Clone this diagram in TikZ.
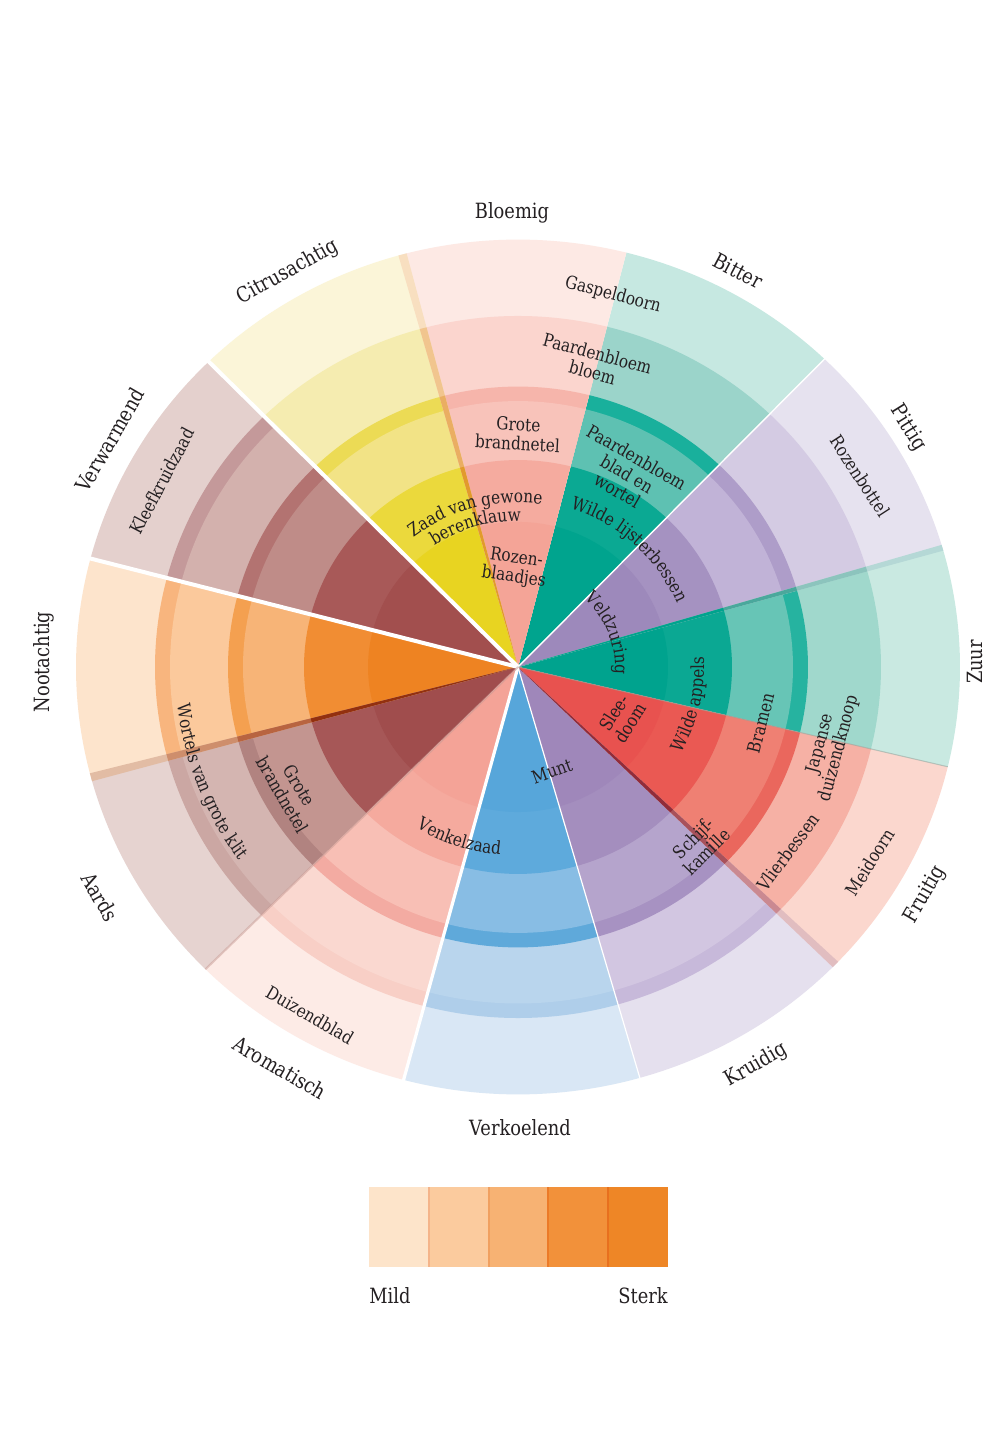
\documentclass[tikz,border=0pt]{standalone}
\usepackage{fontspec}
\setmainfont{DejaVu Serif}[FakeStretch=0.85]
\usetikzlibrary{decorations.text}
\definecolor{txt}{HTML}{242022}
\newcommand\itemfont{\fontsize{9}{9.6}\selectfont}
\newcommand\catfont{\fontsize{10.5}{12}\selectfont}
% sector: a1 a2 in in2 b1 s1 b2 s2 out
\newcommand\sect[9]{%
 \definecolor{cc}{HTML}{#9}\fill[cc] (0,0) -- (#1:442) arc[start angle=#1,end angle=#2,radius=442] -- cycle;
 \definecolor{cc}{HTML}{#8}\fill[cc] (0,0) -- (#1:363) arc[start angle=#1,end angle=#2,radius=363] -- cycle;
 \definecolor{cc}{HTML}{#7}\fill[cc] (0,0) -- (#1:348) arc[start angle=#1,end angle=#2,radius=348] -- cycle;
 \definecolor{cc}{HTML}{#6}\fill[cc] (0,0) -- (#1:290) arc[start angle=#1,end angle=#2,radius=290] -- cycle;
 \definecolor{cc}{HTML}{#5}\fill[cc] (0,0) -- (#1:275) arc[start angle=#1,end angle=#2,radius=275] -- cycle;
 \definecolor{cc}{HTML}{#4}\fill[cc] (0,0) -- (#1:214) arc[start angle=#1,end angle=#2,radius=214] -- cycle;
 \definecolor{cc}{HTML}{#3}\fill[cc] (0,0) -- (#1:150) arc[start angle=#1,end angle=#2,radius=150] -- cycle;
}
% overlap stripe: a1 a2 in b1 b2 out
\newcommand\ovl[6]{%
 \definecolor{cc}{HTML}{#6}\fill[cc] (0,0) -- (#1:442) arc[start angle=#1,end angle=#2,radius=442] -- cycle;
 \definecolor{cc}{HTML}{#5}\fill[cc] (0,0) -- (#1:363) arc[start angle=#1,end angle=#2,radius=363] -- cycle;
 \definecolor{cc}{HTML}{#4}\fill[cc] (0,0) -- (#1:290) arc[start angle=#1,end angle=#2,radius=290] -- cycle;
 \definecolor{cc}{HTML}{#3}\fill[cc] (0,0) -- (#1:214) arc[start angle=#1,end angle=#2,radius=214] -- cycle;
}
\tikzset{
 cat/.style={font=\catfont, text=txt, inner sep=0pt},
 item/.style={font=\itemfont, text=txt, align=center, inner sep=0pt},
 curved/.style={decorate, decoration={text along path, text align=center, text color=txt, text={|\itemfont|#1}}},
 legbox/.style={draw=none}
}
\begin{document}
\begin{tikzpicture}[x=0.5pt,y=0.5pt]
\useasboundingbox (0,0) rectangle (988,1440);
\fill[white] (0,0) rectangle (988,1440);
\begin{scope}[shift={(518,773)}, yscale=0.967]
 \sect{-13.5}{16.2}{00A38E}{0BA893}{67C5B6}{26B3A0}{A0D8CC}{A0D8CC}{C9E9E1}
 \sect{16.2}{46.1}{9D89BB}{A592C1}{C1B3D7}{AE9DC9}{D4CBE3}{D4CBE3}{E6E2EF}
 \sect{46.1}{75.8}{00A48E}{0BA993}{5EC1B2}{19B09C}{9BD4CA}{9BD4CA}{C6E8E1}
 \sect{75.8}{105.2}{F4A497}{F5AB9F}{F8C3BA}{F6B5AB}{FBD5CE}{FBD5CE}{FDE9E4}
 \sect{105.2}{134.4}{E8D421}{EBD93C}{F2E386}{ECDB55}{F5ECB0}{F5ECB0}{FBF5D8}
 \sect{134.4}{165.3}{A24F4E}{A85958}{BF8C88}{B37371}{D3B1AD}{C4999A}{E4D0CD}
 \sect{165.3}{195}{EE8322}{F18D33}{F7B477}{F4A050}{FBC99C}{F8B57E}{FDE4CC}
 \sect{195}{225}{A04D4D}{A65757}{C39590}{B18380}{D4B5B1}{CBA7A3}{E6D3D0}
 \sect{225}{255}{F4A397}{F5AA9E}{F8BFB5}{F3ABA2}{FAD8D0}{F8CFC6}{FDEBE6}
 \sect{255}{286}{57A6DA}{5EAADC}{88BDE4}{5FA9DA}{B9D5ED}{AFCEEA}{D9E7F5}
 \sect{286}{316}{9F87BA}{A48EBE}{B5A4CC}{A792C2}{D2C6E1}{C7B9DA}{E5E0EE}
 \sect{316}{346.5}{E8524F}{EA5953}{EF8073}{EA675D}{F6B1A5}{F6B1A5}{FBD7CE}
 % overlap stripes
 \ovl{104.6}{105.7}{E29A2C}{EAAE62}{F1C58E}{F8DFC0}
 \ovl{194.4}{195.5}{93300F}{B86440}{CE8E6C}{E2BCA4}
 \ovl{315.4}{316.4}{912C3A}{A8515B}{CA8991}{E1BDC0}
 \ovl{15.8}{16.6}{00A38E}{4AA89C}{8CC4BD}{B5D8D6}
 % separating lines
 \draw[white, line width=2pt] (0,0) -- (134.4:446);
 \draw[white, line width=2pt] (0,0) -- (165.3:446);
 \draw[white, line width=1.6pt] (0,0) -- (255:446);
 \draw[white, line width=0.6pt] (0,0) -- (286:443);
 \draw[white, line width=0.7pt] (0,0) -- (46.1:443);
 \draw[color={rgb,255:red,143;green,168;blue,160}, opacity=.6, line width=0.5pt] (0,0) -- (-13.5:442);
 \draw[color={rgb,255:red,199;green,154;blue,148}, opacity=.5, line width=1pt] (0,0) -- (225:442);
 % curved labels
 \path[curved={Zaad van gewone}] (140:170) arc[start angle=140, end angle=70, radius=170];
 \path[curved={berenklauw}] (141.4:151) arc[start angle=141.4, end angle=71.4, radius=151];
 \path[curved={Wilde lijsterbessen}] (92:172) arc[start angle=92, end angle=2, radius=172];
 \path[curved={Veldzuring}] (75:97) arc[start angle=75, end angle=-33, radius=97];
 \path[curved={Wilde appels}] (-60:186) arc[start angle=-60, end angle=35, radius=186];
 \path[curved={Venkelzaad}] (215:195) arc[start angle=215, end angle=288, radius=195];
 \path[curved={Wortels van grote klit}] (175:343) arc[start angle=175, end angle=227, radius=343];
\end{scope}
% category labels
\node[cat] (bloemig) at (512,1227) {Bloemig};
\node[cat, rotate=-28] (bitter) at (738,1169) {Bitter};
\node[cat, rotate=-58] (pittig) at (908,1012) {Pittig};
\node[cat, rotate=90] (zuur) at (975,778) {Zuur};
\node[cat, rotate=60] (fruitig) at (925,545) {Fruitig};
\node[cat, rotate=30] (kruidig) at (756,375) {Kruidig};
\node[cat] (verkoelend) at (520,312) {Verkoelend};
\node[cat, rotate=-30] (aromatisch) at (280,372) {Aromatisch};
\node[cat, rotate=-60] (aards) at (100,543) {Aards};
\node[cat, rotate=90] (nootachtig) at (44,778) {Nootachtig};
\node[cat, rotate=60] (verwarmend) at (110,1000) {Verwarmend};
\node[cat, rotate=29] (citrus) at (288,1168) {Citrusachtig};
% item labels
\node[item, rotate=-15] (gaspel) at (613,1145) {Gaspeldoorn};
\node[item, rotate=-15] (pbbloem) at (595,1077) {Paardenbloem\\bloem};
\node[item, rotate=-3] (grote1) at (518,1006) {Grote\\brandnetel};
\node[item, rotate=-8] (rozen) at (515,872) {Rozen-\\blaadjes};
\node[item, rotate=-30] (pbblad) at (627,966) {Paardenbloem\\blad en\\wortel};
\node[item, rotate=-57] (rozenbottel) at (860,964) {Rozenbottel};
\node[item, rotate=58] (slee) at (622,722) {Slee-\\doom};
\node[item, rotate=20] (munt) at (552,669) {Munt};
\node[item, rotate=45] (schijf) at (700,595) {Schijf-\\kamille};
\node[item, rotate=76] (bramen) at (761,717) {Bramen};
\node[item, rotate=75] (japanse) at (830,694) {Japanse\\duizendknoop};
\node[item, rotate=53] (vlier) at (788,588) {Vlierbessen};
\node[item, rotate=58] (meidoorn) at (870,578) {Meidoorn};
\node[item, rotate=-30] (duizendblad) at (310,425) {Duizendblad};
\node[item, rotate=-60] (grote2) at (291,650) {Grote\\brandnetel};
\node[item, rotate=62] (kleef) at (162,959) {Kleefkruidzaad};
% legend
\definecolor{l1}{HTML}{FDE4CA}\definecolor{l2}{HTML}{FBCB9E}\definecolor{l3}{HTML}{F7B273}
\definecolor{l4}{HTML}{F2913A}\definecolor{l5}{HTML}{EE8626}
\fill[l1] (369,173) rectangle (428,253);
\fill[l2] (428,173) rectangle (488,253);
\fill[l3] (488,173) rectangle (547,253);
\fill[l4] (547,173) rectangle (607,253);
\fill[l5] (607,173) rectangle (668,253);
\draw[color={rgb,255:red,244;green,180;blue,138}, line width=0.8pt] (429,173) -- (429,253);
\draw[color={rgb,255:red,240;green,160;blue,96}, line width=0.8pt] (489,173) -- (489,253);
\draw[color={rgb,255:red,236;green,122;blue,40}, line width=0.8pt] (548,173) -- (548,253);
\draw[color={rgb,255:red,232;green,112;blue,30}, line width=0.8pt] (608,173) -- (608,253);
\node[cat] (mild) at (390,144) {Mild};
\node[cat] (sterk) at (643,144) {Sterk};
\end{tikzpicture}
\end{document}
